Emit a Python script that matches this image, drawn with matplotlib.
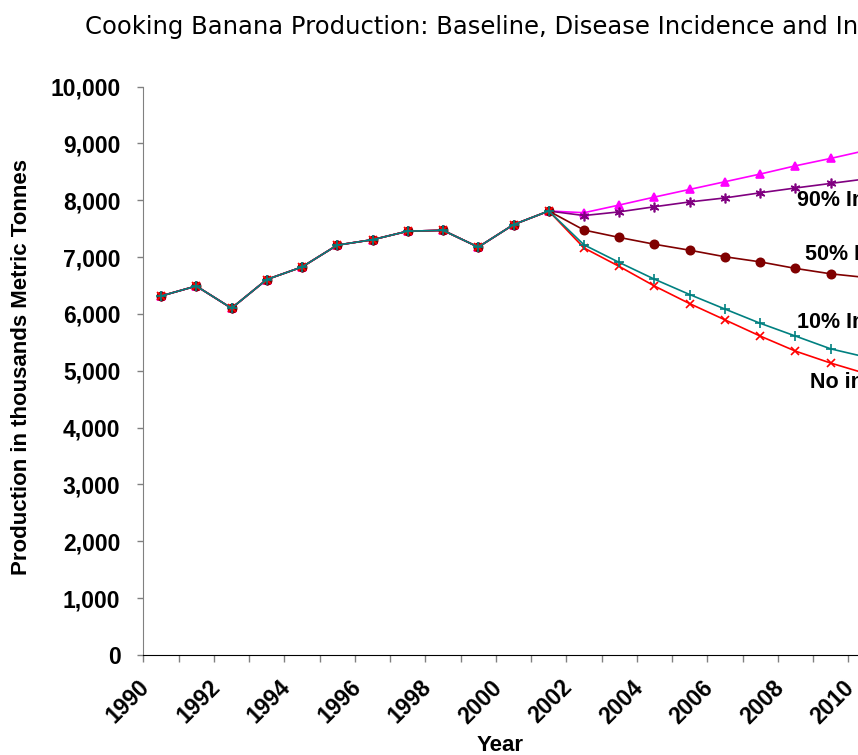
import numpy as np
import matplotlib
matplotlib.use("Agg")
import matplotlib.pyplot as plt
import matplotlib.transforms as mtransforms
from matplotlib.ticker import FuncFormatter, MultipleLocator

plt.rcParams["font.family"] = ["Liberation Sans", "DejaVu Sans"]

# data (thousand metric tonnes)
years = np.arange(1990, 2011)
historical = [6315, 6490, 6100, 6605, 6825, 7210, 7305, 7455, 7470, 7175, 7570, 7810]
baseline = [7780, 7915, 8055, 8190, 8325, 8460, 8605, 8735, 8875]
int90 = [7730, 7795, 7885, 7970, 8040, 8130, 8215, 8295, 8375]
int50 = [7475, 7345, 7225, 7120, 7005, 6915, 6800, 6705, 6640]
int10 = [7215, 6905, 6610, 6340, 6085, 5835, 5610, 5385, 5240]
no_int = [7160, 6835, 6490, 6180, 5895, 5610, 5345, 5135, 4950]

series = [
    ("Baseline", baseline, "#FF00FF", "^", 6),
    ("90% Intervention", int90, "#800080", (6, 2, 0), 7),
    ("50% Intervention", int50, "#800000", "o", 6),
    ("No intervention", no_int, "#FF0000", "x", 6),
    ("10% Intervention", int10, "#008080", "+", 7),
]

# line labels: (text, x year, y value)
line_labels = [
    ("90% Intervention", 2008.04, 7900),
    ("50% Intervention", 2008.27, 6950),
    ("10% Intervention", 2008.04, 5750),
    ("No intervention", 2008.41, 4700),
]

fig = plt.figure(figsize=(8.58, 7.55), dpi=100)
ax = fig.add_axes([143.4 / 858, 100 / 755, 740.2 / 858, 568.5 / 755])

for name, proj, color, marker, ms in series:
    vals = historical + proj
    ax.plot(years, vals, color=color, marker=marker, markersize=ms, linewidth=1.2,
            markeredgewidth=1.2, clip_on=False)

for text, x, y in line_labels:
    ax.text(x, y, text, fontsize=15.5, fontweight="bold", ha="left", va="baseline")

ax.set_xlim(1989.5, 2010.5)
ax.set_ylim(0, 10000)

ax.yaxis.set_major_locator(MultipleLocator(1000))
ax.yaxis.set_major_formatter(FuncFormatter(lambda v, p: f"{int(v):,}"))
ax.tick_params(axis="y", direction="out", length=4.5, width=1, color="#808080", pad=12,
               labelsize=16.5)
for lab in ax.get_yticklabels():
    lab.set_fontweight("bold")

ax.set_xticks(years[::2])
ax.set_xticklabels([str(y) for y in years[::2]], rotation=45, ha="right", va="top",
                   fontsize=16.5, fontweight="bold")
ax.set_xticks(np.arange(1989.5, 2011.0, 1), minor=True)
ax.tick_params(axis="x", which="major", length=0, pad=15)
ax.tick_params(axis="x", which="minor", direction="out", length=5, width=1, color="#808080")
shift = mtransforms.ScaledTranslation(-7 / 100, 0, fig.dpi_scale_trans)
for lab in ax.get_xticklabels():
    lab.set_transform(lab.get_transform() + shift)

for s in ["top", "right"]:
    ax.spines[s].set_visible(False)
ax.spines["left"].set_color("#808080")
ax.spines["bottom"].set_color("black")

fig.text(85 / 858, 1 - 34 / 755, "Cooking Banana Production: Baseline, Disease Incidence and Intervention Scenarios",
         fontsize=17.5, family="DejaVu Sans", ha="left", va="baseline")
fig.text(22 / 858, 1 - 367 / 755, "Production in thousands Metric Tonnes", rotation=90,
         fontsize=16, fontweight="bold", ha="center", va="center")
fig.text(500 / 858, 1 - 735 / 755, "Year", fontsize=16, fontweight="bold", ha="center", va="top")

fig.savefig("out.png", dpi=100)
